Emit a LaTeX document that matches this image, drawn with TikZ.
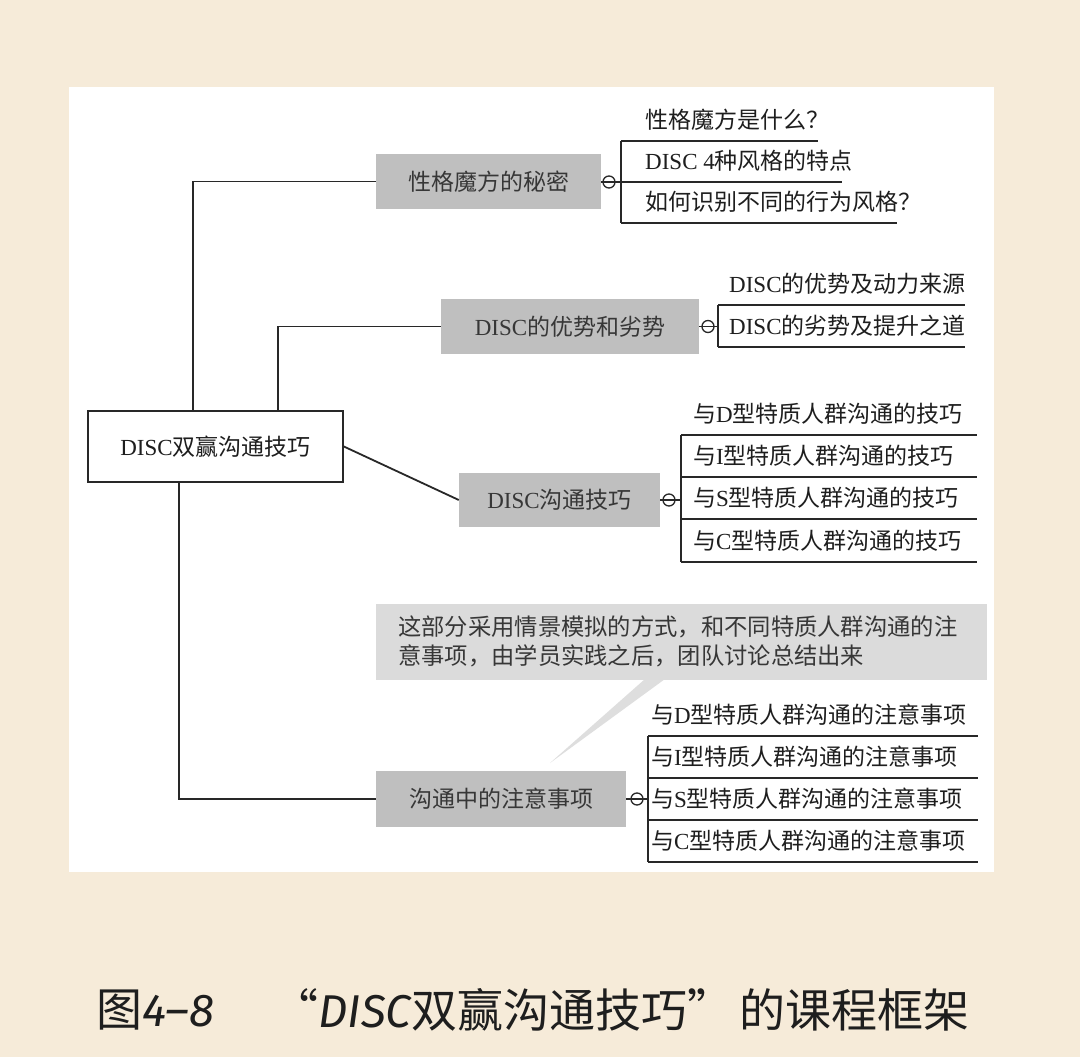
\documentclass[tikz,border=0pt]{standalone}
\usepackage{fontspec}
\setmainfont{Noto Sans CJK SC}
\newfontfamily\lat{Liberation Serif}
\newfontfamily\capit{Fira Sans}
\definecolor{bgbeige}{RGB}{246,235,217}
\definecolor{boxgray}{RGB}{191,191,191}
\definecolor{calgray}{RGB}{219,219,219}
\definecolor{wedgegray}{RGB}{222,222,222}
\definecolor{linecol}{RGB}{40,40,40}
\definecolor{boxtext}{RGB}{55,55,55}
\definecolor{leaftext}{RGB}{30,30,30}
\definecolor{captext}{RGB}{30,30,30}
\begin{document}
\begin{tikzpicture}[x=1pt,y=-1pt,
  topic/.style={fill=boxgray, text=boxtext, inner sep=0pt, font=\fontsize{23}{27}\selectfont},
  rootbox/.style={draw=linecol, line width=1.7pt, fill=white, text=leaftext, inner sep=0pt, font=\fontsize{23}{27}\selectfont},
  leaf/.style={anchor=west, inner sep=0pt, text=leaftext, font=\fontsize{23}{27}\selectfont},
  conn/.style={draw=linecol, line width=1.8pt},
  knob/.style={circle, draw=linecol, line width=1.3pt, minimum size=12pt, inner sep=0pt},
  capstyle/.style={inner sep=0pt, text=captext, font=\fontsize{46}{50}\selectfont}]
\useasboundingbox (0,0) rectangle (1080,1057);
\fill[bgbeige] (0,0) rectangle (1080,1057);
\fill[white] (69,87) rectangle (994,872);

% root
\node[rootbox, minimum width=255pt, minimum height=71pt] (root) at (215.5,446.5) {{\lat DISC}双赢沟通技巧};

% topic boxes
\node[topic, minimum width=225pt, minimum height=55pt] (b1) at (488.5,181.5) {性格魔方的秘密};
\node[topic, minimum width=258pt, minimum height=55pt] (b2) at (570,326.5) {{\lat DISC}的优势和劣势};
\node[topic, minimum width=201pt, minimum height=54pt] (b3) at (559.5,500) {{\lat DISC}沟通技巧};
\node[topic, minimum width=250pt, minimum height=56pt] (b4) at (501,799) {沟通中的注意事项};

% root connectors
\draw[conn] ([xshift=-22.5pt]root.north) |- (b1.west);
\draw[conn] ([xshift=62.5pt]root.north) |- (b2.west);
\draw[conn] (root.east) -- (b3.west);
\draw[conn] ([xshift=-36.5pt]root.south) |- (b4.west);

% ---- branch 1
\coordinate (k1a) at (621,141);
\coordinate (k1b) at (621,182);
\coordinate (k1c) at (621,223);
\draw[conn] (b1.east |- k1b) -- (k1b);
\node[knob] (c1) at (609,182) {};
\draw[conn] (k1a) -- (k1c);
\draw[conn] (k1a) -- (818,141);
\draw[conn] (k1b) -- (842,182);
\draw[conn] (k1c) -- (897,223);
\node[leaf] (l11) at (645,120) {性格魔方是什么？};
\node[leaf] (l12) at (645,161) {{\lat DISC 4}种风格的特点};
\node[leaf] (l13) at (645,202) {如何识别不同的行为风格？};

% ---- branch 2
\coordinate (k2a) at (718,305);
\coordinate (k2m) at (718,326.5);
\coordinate (k2b) at (718,347);
\draw[conn] (b2.east) -- (k2m);
\node[knob] (c2) at (708,326.5) {};
\draw[conn] (k2a) -- (k2b);
\draw[conn] (k2a) -- (965,305);
\draw[conn] (k2b) -- (965,347);
\node[leaf] (l21) at (729,284) {{\lat DISC}的优势及动力来源};
\node[leaf] (l22) at (729,326) {{\lat DISC}的劣势及提升之道};

% ---- branch 3
\coordinate (k3a) at (681,435);
\coordinate (k3b) at (681,477);
\coordinate (k3m) at (681,500);
\coordinate (k3c) at (681,519);
\coordinate (k3d) at (681,562);
\draw[conn] (b3.east) -- (k3m);
\node[knob] (c3) at (669,500) {};
\draw[conn] (k3a) -- (k3d);
\draw[conn] (k3a) -- (977,435);
\draw[conn] (k3b) -- (977,477);
\draw[conn] (k3c) -- (977,519);
\draw[conn] (k3d) -- (977,562);
\node[leaf] (l31) at (693,414) {与{\lat D}型特质人群沟通的技巧};
\node[leaf] (l32) at (693,456) {与{\lat I}型特质人群沟通的技巧};
\node[leaf] (l33) at (693,498) {与{\lat S}型特质人群沟通的技巧};
\node[leaf] (l34) at (693,541) {与{\lat C}型特质人群沟通的技巧};

% ---- callout
\fill[wedgegray] (645,679) -- (665,679) -- (550,763) -- cycle;
\node[fill=calgray, minimum width=611pt, minimum height=76pt, inner sep=0pt] (call) at (681.5,642) {};
\node[anchor=west, inner sep=0pt, align=left, text=boxtext, font=\fontsize{23.3}{28.5}\selectfont] (calltext) at (398,641.5)
  {这部分采用情景模拟的方式，和不同特质人群沟通的注\\意事项，由学员实践之后，团队讨论总结出来};

% ---- branch 4
\coordinate (k4a) at (648,736);
\coordinate (k4b) at (648,778);
\coordinate (k4m) at (648,799);
\coordinate (k4c) at (648,820);
\coordinate (k4d) at (648,862);
\draw[conn] (b4.east) -- (k4m);
\node[knob] (c4) at (637,799) {};
\draw[conn] (k4a) -- (k4d);
\draw[conn] (k4a) -- (978,736);
\draw[conn] (k4b) -- (978,778);
\draw[conn] (k4c) -- (978,820);
\draw[conn] (k4d) -- (978,862);
\node[leaf] (l41) at (651,715) {与{\lat D}型特质人群沟通的注意事项};
\node[leaf] (l42) at (651,757) {与{\lat I}型特质人群沟通的注意事项};
\node[leaf] (l43) at (651,799) {与{\lat S}型特质人群沟通的注意事项};
\node[leaf] (l44) at (651,841) {与{\lat C}型特质人群沟通的注意事项};

% ---- caption
\node[capstyle, anchor=west] (cap1) at (96,1010) {图{\capit\itshape 4–8}};
\node[capstyle, anchor=west] (cap2) at (272,1010) {“{\capit\itshape DISC}双赢沟通技巧”};
\node[capstyle, anchor=east] (cap3) at (970,1010) {的课程框架};
\end{tikzpicture}
\end{document}
